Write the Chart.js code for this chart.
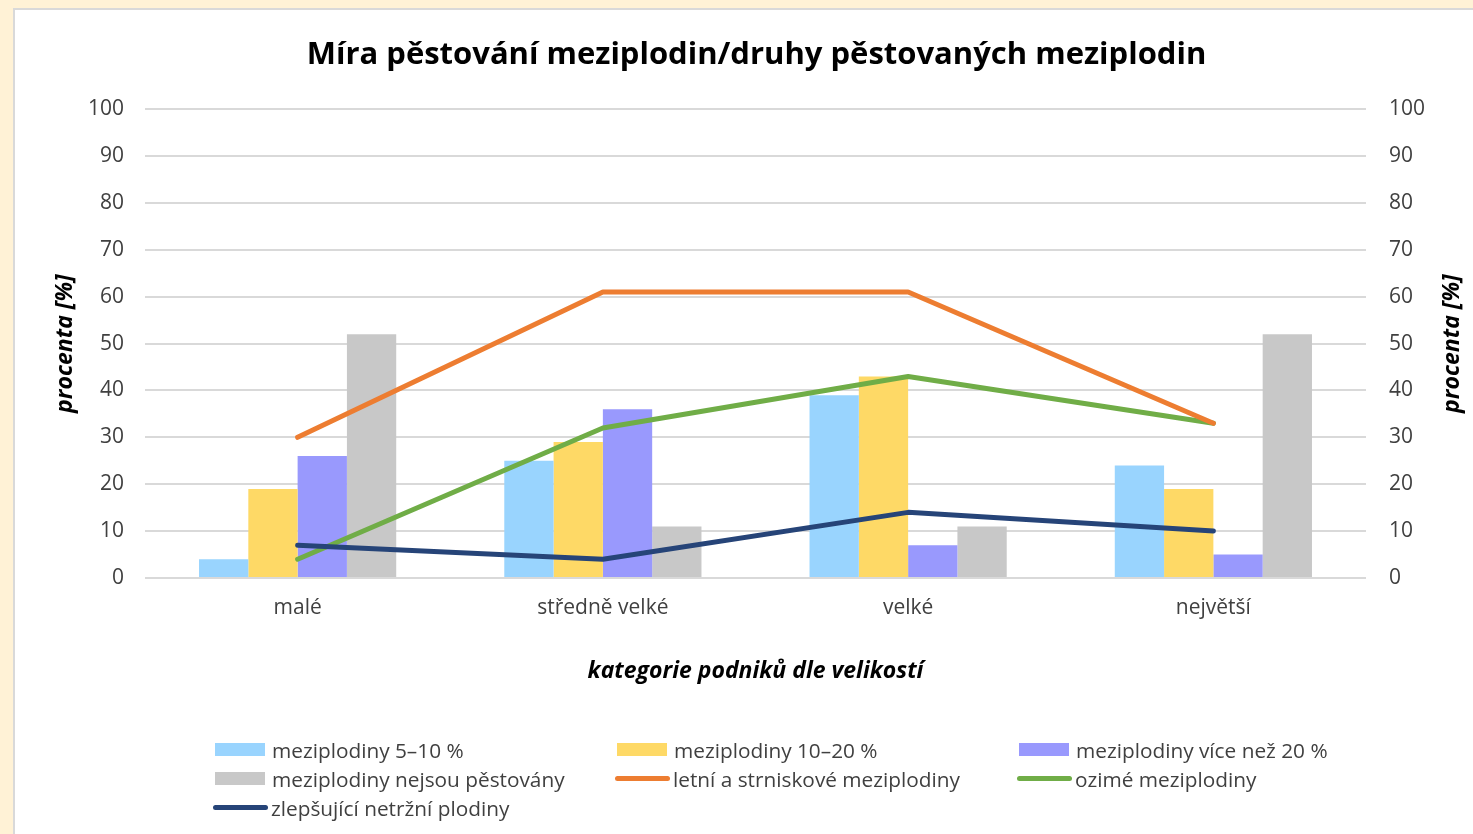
<!DOCTYPE html>
<html>
<head>
<meta charset="utf-8">
<script src="https://cdn.jsdelivr.net/npm/chart.js@4"></script>
<style>
  html, body { margin:0; padding:0; }
  body { width:1473px; height:834px; background:#FFF2D6; position:relative; overflow:hidden; font-family:"Open Sans", sans-serif; }
  #panel { position:absolute; left:13px; top:8px; width:1470px; height:840px; background:#fff; border:2px solid #D9D9D9; box-sizing:border-box; }
  #wrap { position:absolute; left:0; top:0; width:1473px; height:834px; }
  #legend { position:absolute; left:213px; top:735px; display:grid; grid-template-columns:402px 402px 402px; grid-auto-rows:29px; color:#404040; font-size:20.8px; }
  .item { display:flex; align-items:center; white-space:nowrap; }
  .sw { display:inline-block; margin-right:6px; }
</style>
</head>
<body>
<div id="panel"></div>
<div id="wrap"><canvas id="c" width="1473" height="834"></canvas></div>
<div id="legend"></div>
<script>
const categories = ['malé', 'středně velké', 'velké', 'největší'];
const yTicks = [0, 10, 20, 30, 40, 50, 60, 70, 80, 90, 100];

const mezi5_10 = [4, 25, 39, 24];
const mezi10_20 = [19, 29, 43, 19];
const meziVice20 = [26, 36, 7, 5];
const meziNejsou = [52, 11, 11, 52];
const letniStrniskove = [30, 61, 61, 33];
const ozime = [4, 32, 43, 33];
const zlepsujici = [7, 4, 14, 10];

const seriesNames = [
  'meziplodiny 5–10 %',
  'meziplodiny 10–20 %',
  'meziplodiny více než 20 %',
  'meziplodiny nejsou pěstovány',
  'letní a strniskové meziplodiny',
  'ozimé meziplodiny',
  'zlepšující netržní plodiny'
];
const axisTitleY = 'procenta [%]';

const txt = '#404040';
const bar = (label, data, color) => ({ type:'bar', label, data, backgroundColor:color, borderWidth:0, order:2, yAxisID:'y' });
const line = (label, data, color, ord) => ({ type:'line', label, data, borderColor:color, backgroundColor:color, borderWidth:5, pointRadius:0, tension:0, borderCapStyle:'round', borderJoinStyle:'round', order:ord, yAxisID:'y' });

const datasets = [
  bar(seriesNames[0], mezi5_10, '#99D4FE'),
  bar(seriesNames[1], mezi10_20, '#FED966'),
  bar(seriesNames[2], meziVice20, '#9999FD'),
  bar(seriesNames[3], meziNejsou, '#C8C8C8'),
  line(seriesNames[4], letniStrniskove, '#ED7D31', 1),
  line(seriesNames[5], ozime, '#70AD47', 1),
  line(seriesNames[6], zlepsujici, '#264478', 0)
];

const FF = '"Open Sans", sans-serif';
const tickFont = { family:FF, size:21 };
const axisTitleFont = { family:FF, size:23, weight:'bold', style:'italic' };

// draws the right-hand axis title reading bottom-to-top, like the left one
const rightTitle = {
  id:'rightTitle',
  afterDraw(chart) {
    const s = chart.scales.y2, a = chart.chartArea, ctx = chart.ctx;
    ctx.save();
    ctx.translate(s.right - 21, (a.top + a.bottom) / 2);
    ctx.rotate(-Math.PI / 2);
    ctx.font = 'italic bold 23px ' + FF;
    ctx.fillStyle = '#000';
    ctx.textAlign = 'center';
    ctx.textBaseline = 'middle';
    ctx.fillText(axisTitleY, 0, 0);
    ctx.restore();
  }
};

const chart = new Chart(document.getElementById('c'), {
  data: { labels: categories, datasets },
  plugins: [rightTitle],
  options: {
    responsive:false,
    animation:false,
    layout: { padding: { left:40, right:0, top:0, bottom:120 } },
    datasets: { bar: { categoryPercentage:0.646, barPercentage:1.0 } },
    plugins: {
      legend: { display:false },
      tooltip: { enabled:false },
      title: {
        display:true,
        text:'Míra pěstování meziplodin/druhy pěstovaných meziplodin',
        color:'#000',
        font:{ family:FF, size:31, weight:'bold' },
        padding:{ top:37, bottom:35 }
      }
    },
    scales: {
      x: {
        grid:{ display:false, drawTicks:false },
        border:{ display:false },
        ticks:{ color:txt, font:tickFont, padding:17 },
        title:{ display:true, text:'kategorie podniků dle velikostí', color:'#000', font:axisTitleFont, padding:{ top:10, bottom:29 } },
        afterFit: s => { s.height = 136; }
      },
      y: {
        position:'left',
        min:0, max:100,
        afterBuildTicks: s => { s.ticks = yTicks.map(v => ({ value:v })); },
        grid:{ color:'#D9D9D9', lineWidth:2, drawTicks:false },
        border:{ display:false },
        ticks:{ color:txt, font:tickFont, padding:21 },
        title:{ display:true, text:axisTitleY, color:'#000', font:axisTitleFont, padding:{ top:12, bottom:0 } },
        afterFit: s => { s.width = 105; }
      },
      y2: {
        position:'right',
        min:0, max:100,
        afterBuildTicks: s => { s.ticks = yTicks.map(v => ({ value:v })); },
        grid:{ display:false, drawTicks:false },
        border:{ display:false },
        ticks:{ color:txt, font:tickFont, padding:23 },
        title:{ display:false },
        afterFit: s => { s.width = 107; }
      }
    }
  }
});

// HTML legend built from the chart's datasets
const leg = document.getElementById('legend');
chart.data.datasets.forEach(ds => {
  const it = document.createElement('div');
  it.className = 'item';
  const sw = document.createElement('span');
  sw.className = 'sw';
  if (ds.type === 'bar') {
    sw.style.cssText = 'width:50px;height:13px;margin-left:2px;margin-right:7px;background:' + ds.backgroundColor;
  } else {
    sw.style.cssText = 'width:55px;height:5px;border-radius:3px;margin-right:3px;background:' + ds.borderColor;
  }
  it.appendChild(sw);
  const t = document.createElement('span');
  t.textContent = ds.label;
  it.appendChild(t);
  leg.appendChild(it);
});
</script>
</body>
</html>
